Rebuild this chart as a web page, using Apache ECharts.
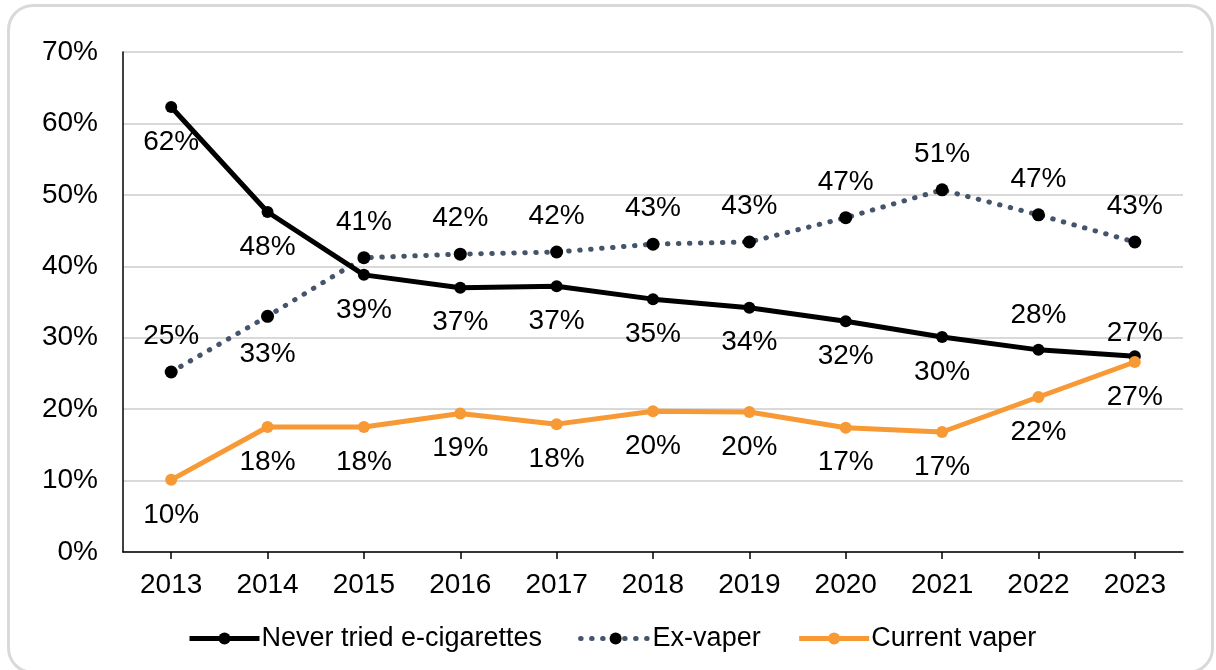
<!DOCTYPE html>
<html>
<head>
<meta charset="utf-8">
<script src="https://cdn.jsdelivr.net/npm/echarts@6/dist/echarts.min.js"></script>
<style>
  html, body { margin: 0; padding: 0; background: #fff; }
  #chart { position: absolute; left: 0; top: 0; width: 1216px; height: 670px; }
  #frame { position: absolute; left: 7px; top: 4px; width: 1207px; height: 670px; box-sizing: border-box;
           border: 3px solid #d9d9d9; border-radius: 26px; pointer-events: none; }
</style>
</head>
<body>
<div id="chart"></div>
<div id="frame"></div>
<script>
const years = ['2013','2014','2015','2016','2017','2018','2019','2020','2021','2022','2023'];
const neverTried = [62.3, 47.6, 38.8, 37.0, 37.2, 35.4, 34.2, 32.3, 30.1, 28.3, 27.4];
const exVaper    = [25.2, 33.0, 41.2, 41.7, 42.0, 43.1, 43.4, 46.8, 50.7, 47.2, 43.4];
const current    = [10.1, 17.5, 17.5, 19.4, 17.9, 19.7, 19.6, 17.4, 16.8, 21.7, 26.6];
const yTicks = [0, 10, 20, 30, 40, 50, 60, 70];

// label placement per point (style, not data)
const neverPos = ['bottom','bottom','bottom','bottom','bottom','bottom','bottom','bottom','bottom','top','top'];
const exPos    = ['top','bottom','top','top','top','top','top','top','top','top','top'];
const curPos   = ['bottom','bottom','bottom','bottom','bottom','bottom','bottom','bottom','bottom','bottom','bottom'];
const neverDist = [15,15,15,15,15,15,15,15,15,15,3];
const exDist    = [15,17,15,15,15,15,15,15,15,15,15];
const curDist   = [15,15,15,15,15,15,15,15,15,15,15];

const FONT = '"Liberation Sans", Arial, sans-serif';
const FS = 28;
const fmt = p => Math.round(p.value) + '%';

function pts(values, positions, dists) {
  return values.map((v, i) => ({
    value: v,
    label: { position: positions[i], distance: dists[i] }
  }));
}

const BLACK = '#000000', SLATE = '#44546a', ORANGE = '#f79a35';

const chart = echarts.init(document.getElementById('chart'), null, { renderer: 'canvas' });
chart.setOption({
  animation: false,
  backgroundColor: '#ffffff',
  textStyle: { fontFamily: FONT },
  grid: { left: 123, right: 33, top: 52, bottom: 118, containLabel: false },
  xAxis: {
    type: 'category',
    data: years,
    boundaryGap: true,
    axisLine: { lineStyle: { color: '#000', width: 1.5 } },
    axisTick: { show: true, alignWithLabel: true, length: 7, lineStyle: { color: '#000', width: 1.5 } },
    axisLabel: { color: '#000', fontSize: FS, fontFamily: FONT, margin: 19 },
    splitLine: { show: false }
  },
  yAxis: {
    type: 'value',
    min: yTicks[0],
    max: yTicks[yTicks.length - 1],
    interval: 10,
    axisLine: { show: true, lineStyle: { color: '#000', width: 1.5 } },
    axisTick: { show: false },
    axisLabel: { color: '#000', fontSize: FS, fontFamily: FONT, margin: 25, formatter: v => v + '%' },
    splitLine: { lineStyle: { color: '#d9d9d9', width: 2 } }
  },
  legend: {
    left: 182,
    top: 620,
    itemWidth: 70,
    itemHeight: 15,
    itemGap: 36,
    textStyle: { color: '#000', fontSize: 27, fontFamily: FONT, padding: [0, 0, 0, -3] },
    data: [
      { name: 'Never tried e-cigarettes', itemStyle: { color: BLACK }, lineStyle: { color: BLACK, width: 5 } },
      { name: 'Ex-vaper', itemStyle: { color: BLACK }, lineStyle: { color: SLATE, width: 5, type: [0.5, 10.5], cap: 'round' } },
      { name: 'Current vaper', itemStyle: { color: ORANGE }, lineStyle: { color: ORANGE, width: 5 } }
    ]
  },
  series: [
    {
      name: 'Never tried e-cigarettes',
      type: 'line',
      data: pts(neverTried, neverPos, neverDist),
      symbol: 'circle',
      symbolSize: 12,
      itemStyle: { color: BLACK },
      lineStyle: { color: BLACK, width: 5 },
      label: { show: true, color: '#000', fontSize: FS, fontFamily: FONT, formatter: fmt },
      z: 3
    },
    {
      name: 'Ex-vaper',
      type: 'line',
      data: pts(exVaper, exPos, exDist),
      symbol: 'circle',
      symbolSize: 13,
      itemStyle: { color: BLACK },
      lineStyle: { color: SLATE, width: 5, type: [0.5, 10.5], cap: 'round' },
      label: { show: true, color: '#000', fontSize: FS, fontFamily: FONT, formatter: fmt },
      z: 2
    },
    {
      name: 'Current vaper',
      type: 'line',
      data: pts(current, curPos, curDist),
      symbol: 'circle',
      symbolSize: 12,
      itemStyle: { color: ORANGE },
      lineStyle: { color: ORANGE, width: 5 },
      label: { show: true, color: '#000', fontSize: FS, fontFamily: FONT, formatter: fmt },
      z: 4
    }
  ]
});
</script>
</body>
</html>
